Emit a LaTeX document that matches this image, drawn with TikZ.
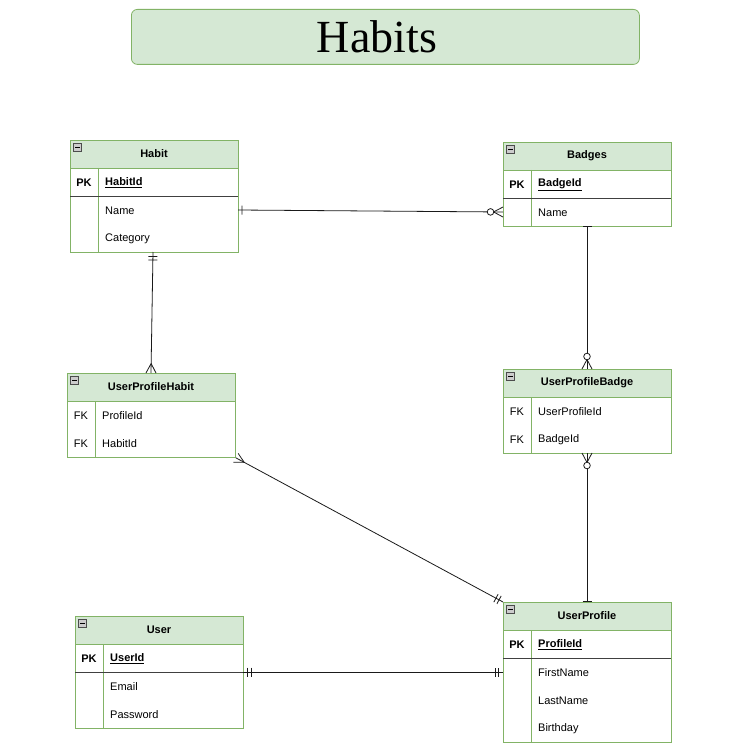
\documentclass[tikz,border=0pt]{standalone}
\usepackage{fontspec}
\setmainfont{Liberation Sans}
\newfontfamily\titlefont{Liberation Serif}
\usetikzlibrary{calc}
\definecolor{gfill}{HTML}{D5E8D4}
\definecolor{gline}{HTML}{82B366}
\definecolor{conn}{HTML}{1A1A1A}
\tikzset{
  tbl/.style={draw=gline, fill=white, line width=0.8pt, minimum width=168pt, inner sep=0pt, anchor=north west},
  hdr/.style={draw=gline, fill=gfill, line width=0.8pt, minimum width=168pt, minimum height=28pt, inner sep=0pt, anchor=north west},
  htext/.style={font=\fontsize{11}{13}\selectfont\bfseries, inner sep=0pt},
  ftext/.style={font=\fontsize{11}{13}\selectfont, inner sep=0pt, anchor=west, yshift=-1pt},
  ktext/.style={font=\fontsize{11}{13}\selectfont, inner sep=0pt, yshift=-1pt},
  minusbox/.style={draw=gray!60!black, fill=gray!40, minimum size=8pt, inner sep=0pt, line width=0.6pt},
  sep/.style={draw=black!75, line width=1pt},
  colsep/.style={draw=gline, line width=0.8pt},
  con/.style={draw=conn, line width=0.8pt},
}
% ER end marks: #1 end point, #2 other point
\newcommand{\markone}[3]{% bar at distance #3
  \draw[con] ($($(#1)!#3!(#2)$)!4.5pt!90:(#2)$) -- ($($(#1)!#3!(#2)$)!4.5pt!-90:(#2)$);}
\newcommand{\markfoot}[2]{%
  \draw[con] ($(#1)!9.5pt!(#2)$) -- ($(#1)!5pt!90:(#2)$);
  \draw[con] ($(#1)!9.5pt!(#2)$) -- ($(#1)!5pt!-90:(#2)$);}
\newcommand{\markzero}[2]{%
  \draw[con, fill=white] ($(#1)!12.5pt!(#2)$) circle (3.3pt);}
\newcommand{\minusicon}[2]{%
  \node[minusbox] (#2) at (#1) {};
  \draw[line width=1pt] ([xshift=-2.5pt]#2.center) -- ([xshift=2.5pt]#2.center);}
\begin{document}
\begin{tikzpicture}[x=1pt,y=-1pt]
\useasboundingbox (0,0) rectangle (752,754);
\fill[white] (0,0) rectangle (752,754);

% Title
\node[draw=gline, fill=gfill, rounded corners=6pt, minimum width=508pt, minimum height=55pt, anchor=north west, line width=0.8pt] (title) at (131,9) {};
\node[font=\titlefont\fontsize{46}{50}\selectfont, inner sep=0pt] (titletext) at (377,37) {Habits};

% ---------- Habit ----------
\node[tbl, minimum height=112pt] (habit) at (70,140) {};
\node[hdr] (habith) at (70,140) {};
\node[htext] (habitt) at (154,154) {Habit};
\minusicon{77.5,147.5}{habitm}
\draw[colsep] (98,168) -- (98,252);
\draw[sep] (70,196) -- (238,196);
\node[ktext, font=\fontsize{11}{13}\selectfont\bfseries] (habitk) at (84,182) {PK};
\node[ftext, font=\fontsize{11}{13}\selectfont\bfseries] (habitf1) at (105,182) {\underline{HabitId}};
\node[ftext] (habitf2) at (105,210) {Name};
\node[ftext] (habitf3) at (105,238) {Category};

% ---------- Badges ----------
\node[tbl, minimum height=84pt] (badges) at (503,142) {};
\node[hdr] (badgesh) at (503,142) {};
\node[htext] (badgest) at (587,156) {Badges};
\minusicon{510.5,149.5}{badgesm}
\draw[colsep] (531,170) -- (531,226);
\draw[sep] (503,198) -- (671,198);
\node[ktext, font=\fontsize{11}{13}\selectfont\bfseries] (badgesk) at (517,184) {PK};
\node[ftext, font=\fontsize{11}{13}\selectfont\bfseries] (badgesf1) at (538,184) {\underline{BadgeId}};
\node[ftext] (badgesf2) at (538,212) {Name};

% ---------- UserProfileHabit ----------
\node[tbl, minimum height=84pt] (uph) at (67,373) {};
\node[hdr] (uphh) at (67,373) {};
\node[htext] (upht) at (151,387) {UserProfileHabit};
\minusicon{74.5,380.5}{uphm}
\draw[colsep] (95,401) -- (95,457);
\node[ktext] (uphk1) at (81,415) {FK};
\node[ktext] (uphk2) at (81,443) {FK};
\node[ftext] (uphf1) at (102,415) {ProfileId};
\node[ftext] (uphf2) at (102,443) {HabitId};

% ---------- UserProfileBadge ----------
\node[tbl, minimum height=84pt] (upb) at (503,369) {};
\node[hdr] (upbh) at (503,369) {};
\node[htext] (upbt) at (587,383) {UserProfileBadge};
\minusicon{510.5,376.5}{upbm}
\draw[colsep] (531,397) -- (531,453);
\node[ktext] (upbk1) at (517,411) {FK};
\node[ktext] (upbk2) at (517,439) {FK};
\node[ftext] (upbf1) at (538,411) {UserProfileId};
\node[ftext] (upbf2) at (538,439) {BadgeId};

% ---------- User ----------
\node[tbl, minimum height=112pt] (user) at (75,616) {};
\node[hdr] (userh) at (75,616) {};
\node[htext] (usert) at (159,630) {User};
\minusicon{82.5,623.5}{userm}
\draw[colsep] (103,644) -- (103,728);
\draw[sep] (75,672) -- (243,672);
\node[ktext, font=\fontsize{11}{13}\selectfont\bfseries] (userk) at (89,658) {PK};
\node[ftext, font=\fontsize{11}{13}\selectfont\bfseries] (userf1) at (110,658) {\underline{UserId}};
\node[ftext] (userf2) at (110,686) {Email};
\node[ftext] (userf3) at (110,714) {Password};

% ---------- UserProfile ----------
\node[tbl, minimum height=140pt] (up) at (503,602) {};
\node[hdr] (uph2) at (503,602) {};
\node[htext] (upt) at (587,616) {UserProfile};
\minusicon{510.5,609.5}{upm}
\draw[colsep] (531,630) -- (531,742);
\draw[sep] (503,658) -- (671,658);
\node[ktext, font=\fontsize{11}{13}\selectfont\bfseries] (upk) at (517,644) {PK};
\node[ftext, font=\fontsize{11}{13}\selectfont\bfseries] (upf1) at (538,644) {\underline{ProfileId}};
\node[ftext] (upf2) at (538,672) {FirstName};
\node[ftext] (upf3) at (538,700) {LastName};
\node[ftext] (upf4) at (538,728) {Birthday};

% ---------- Connectors ----------
\coordinate (c1a) at (238,210);
\coordinate (c1b) at (503,212);
\draw[con] (c1a) -- (c1b);
\markone{c1a}{c1b}{4pt}
\markfoot{c1b}{c1a}
\markzero{c1b}{c1a}

\coordinate (c2a) at (153,252);
\coordinate (c2b) at (151,373);
\draw[con] (c2a) -- (c2b);
\markone{c2a}{c2b}{4.5pt}
\markone{c2a}{c2b}{8pt}
\markfoot{c2b}{c2a}

\coordinate (c3a) at (587,226);
\coordinate (c3b) at (587,369);
\draw[con] (c3a) -- (c3b);
\markone{c3a}{c3b}{0.8pt}
\markfoot{c3b}{c3a}
\markzero{c3b}{c3a}

\coordinate (c4a) at (587,453);
\coordinate (c4b) at (587,602);
\draw[con] (c4a) -- (c4b);
\markfoot{c4a}{c4b}
\markzero{c4a}{c4b}
\markone{c4b}{c4a}{0.8pt}

\coordinate (c5a) at (uph.south east);
\coordinate (c5b) at (up.north west);
\draw[con] (c5a) -- (c5b);
\markfoot{c5a}{c5b}
\markone{c5b}{c5a}{4.5pt}
\markone{c5b}{c5a}{8pt}

\coordinate (c6a) at (243,672);
\coordinate (c6b) at (503,672);
\draw[con] (c6a) -- (c6b);
\markone{c6a}{c6b}{4.5pt}
\markone{c6a}{c6b}{8pt}
\markone{c6b}{c6a}{4.5pt}
\markone{c6b}{c6a}{8pt}
\end{tikzpicture}
\end{document}
